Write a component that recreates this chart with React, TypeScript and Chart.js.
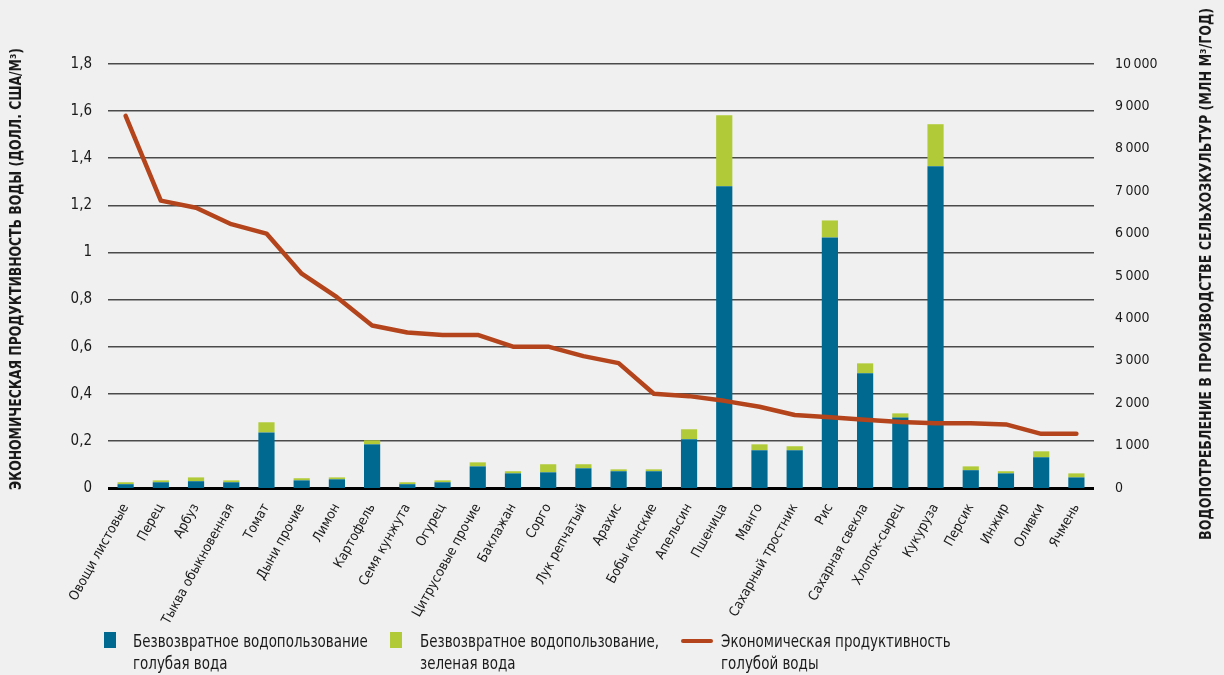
import React, { useEffect, useRef } from "react";
import { Chart, registerables } from "chart.js";

Chart.register(...registerables);

const FONT = "'Liberation Sans Narrow', 'DejaVu Sans Condensed', 'Roboto Condensed', sans-serif";

const categories = [
  "Овощи листовые", "Перец", "Арбуз", "Тыква обыкновенная", "Томат", "Дыни прочие", "Лимон",
  "Картофель", "Семя кунжута", "Огурец", "Цитрусовые прочие", "Баклажан", "Сорго", "Лук репчатый",
  "Арахис", "Бобы конские", "Апельсин", "Пшеница", "Манго", "Сахарный тростник", "Рис",
  "Сахарная свекла", "Хлопок-сырец", "Кукуруза", "Персик", "Инжир", "Оливки", "Ячмень",
];

// млн м³/год
const blueWater = [90, 135, 160, 135, 1310, 180, 205, 1030, 90, 135, 510, 345, 370, 465, 395, 395, 1150, 7115, 890, 890, 5910, 2705, 1660, 7590, 420, 345, 725, 250];
const greenWater = [45, 45, 90, 45, 240, 50, 45, 95, 45, 45, 95, 50, 190, 95, 45, 45, 235, 1675, 140, 95, 400, 235, 100, 990, 90, 50, 140, 95];
// долл. США/м³
const productivity = [1.58, 1.22, 1.19, 1.12, 1.08, 0.91, 0.81, 0.69, 0.66, 0.65, 0.65, 0.6, 0.6, 0.56, 0.53, 0.4, 0.39, 0.37, 0.345, 0.31, 0.3, 0.29, 0.28, 0.275, 0.275, 0.27, 0.23, 0.23];

const leftAxisMax = 1.8;
const leftAxisStep = 0.2;
const rightAxisMax = 10000;
const rightAxisStep = 1000;

const leftTitle = "ЭКОНОМИЧЕСКАЯ ПРОДУКТИВНОСТЬ ВОДЫ (ДОЛЛ. США/М³)";
const rightTitle = "ВОДОПОТРЕБЛЕНИЕ В ПРОИЗВОДСТВЕ СЕЛЬХОЗКУЛЬТУР (МЛН М³/ГОД)";

const legendBlue = ["Безвозвратное водопользование", "голубая вода"];
const legendGreen = ["Безвозвратное водопользование,", "зеленая вода"];
const legendLine = ["Экономическая продуктивность", "голубой воды"];

const BLUE = "#006990";
const GREEN = "#b0cb37";
const RED = "#b4441b";
const BG = "#f0f0f0";
const TEXT = "#1a1a1a";

const fmtLeft = (v: number) => String(Number(v.toFixed(1))).replace(".", ",");
const fmtRight = (v: number) => {
  const s = String(Math.round(v));
  return s.replace(/\B(?=(\d{3})+(?!\d))/g, "\u2009");
};

const titlePlugin = {
  id: "axisTitles",
  afterDraw(chart: any) {
    const ctx = chart.ctx as CanvasRenderingContext2D;
    const draw = (text: string, x: number, y: number, len: number) => {
      ctx.save();
      ctx.translate(x, y);
      ctx.rotate(-Math.PI / 2);
      ctx.font = "bold 16px " + FONT;
      const w = ctx.measureText(text).width;
      ctx.scale(len / w, 1);
      ctx.textAlign = "center";
      ctx.textBaseline = "middle";
      ctx.fillStyle = TEXT;
      ctx.fillText(text, 0, 0);
      ctx.restore();
    };
    draw(leftTitle, 17, 269, 442);
    draw(rightTitle, 1207, 274, 532);
  },
};

export default function App() {
  const ref = useRef<HTMLCanvasElement | null>(null);

  useEffect(() => {
    if (!ref.current) return;
    const chart = new Chart(ref.current, {
      type: "bar",
      data: {
        labels: categories,
        datasets: [
          {
            type: "line",
            label: legendLine.join(" "),
            data: productivity,
            yAxisID: "y",
            borderColor: RED,
            backgroundColor: RED,
            borderWidth: 4.5,
            pointRadius: 0,
            tension: 0,
            borderCapStyle: "round",
            borderJoinStyle: "round",
            order: 0,
          } as any,
          {
            type: "bar",
            label: legendBlue.join(" "),
            data: blueWater,
            yAxisID: "y1",
            backgroundColor: BLUE,
            stack: "w",
            categoryPercentage: 1,
            barPercentage: 0.46,
            order: 2,
          },
          {
            type: "bar",
            label: legendGreen.join(" "),
            data: greenWater,
            yAxisID: "y1",
            backgroundColor: GREEN,
            stack: "w",
            categoryPercentage: 1,
            barPercentage: 0.46,
            order: 2,
          },
        ],
      },
      options: {
        responsive: false,
        animation: false,
        layout: { padding: { top: 64, left: 0, right: 0, bottom: 0 } },
        plugins: {
          legend: { display: false },
          tooltip: { enabled: false },
          title: { display: false },
        },
        scales: {
          x: {
            stacked: true,
            grid: { display: false },
            border: { display: false },
            ticks: {
              autoSkip: false,
              minRotation: 61,
              maxRotation: 61,
              padding: 5,
              color: TEXT,
              font: { family: FONT, size: 13.5 },
            },
            afterFit: (s: any) => {
              s.height = 187;
            },
          },
          y: {
            position: "left",
            min: 0,
            max: leftAxisMax,
            border: { display: false },
            grid: {
              drawTicks: false,
              color: (c: any) => (c.tick && c.tick.value === 0 ? "#000" : "#4a4a4a"),
              lineWidth: (c: any) => (c.tick && c.tick.value === 0 ? 3 : 1.5),
            },
            ticks: {
              stepSize: leftAxisStep,
              padding: 16,
              color: TEXT,
              font: { family: FONT, size: 15 },
              callback: (v: any) => fmtLeft(Number(v)),
            },
            afterFit: (s: any) => {
              s.width = 108;
            },
          },
          y1: {
            position: "right",
            stacked: true,
            min: 0,
            max: rightAxisMax,
            border: { display: false },
            grid: { display: false, drawTicks: false },
            ticks: {
              stepSize: rightAxisStep,
              padding: 21,
              color: TEXT,
              font: { family: FONT, size: 14 },
              callback: (v: any) => fmtRight(Number(v)),
            },
            afterFit: (s: any) => {
              s.width = 130;
            },
          },
        },
      },
      plugins: [titlePlugin],
    });
    return () => chart.destroy();
  }, []);

  const legendText: React.CSSProperties = {
    position: "absolute",
    fontFamily: FONT,
    fontSize: 17,
    lineHeight: "22px",
    color: TEXT,
    whiteSpace: "nowrap",
    transform: "scaleX(0.88)",
    transformOrigin: "0 0",
  };

  return (
    <div style={{ position: "fixed", left: 0, top: 0, width: 1224, height: 675, background: BG, overflow: "hidden" }}>
      <canvas ref={ref} width={1224} height={675} style={{ display: "block" }} />
      <div style={{ position: "absolute", left: 104, top: 632, width: 12, height: 16, background: BLUE }} />
      <div style={{ ...legendText, left: 133, top: 630 }}>
        {legendBlue[0]}<br />{legendBlue[1]}
      </div>
      <div style={{ position: "absolute", left: 390, top: 632, width: 12, height: 16, background: GREEN }} />
      <div style={{ ...legendText, left: 420, top: 630 }}>
        {legendGreen[0]}<br />{legendGreen[1]}
      </div>
      <div style={{ position: "absolute", left: 681, top: 639, width: 32, height: 4, borderRadius: 2, background: RED }} />
      <div style={{ ...legendText, left: 721, top: 630 }}>
        {legendLine[0]}<br />{legendLine[1]}
      </div>
    </div>
  );
}
